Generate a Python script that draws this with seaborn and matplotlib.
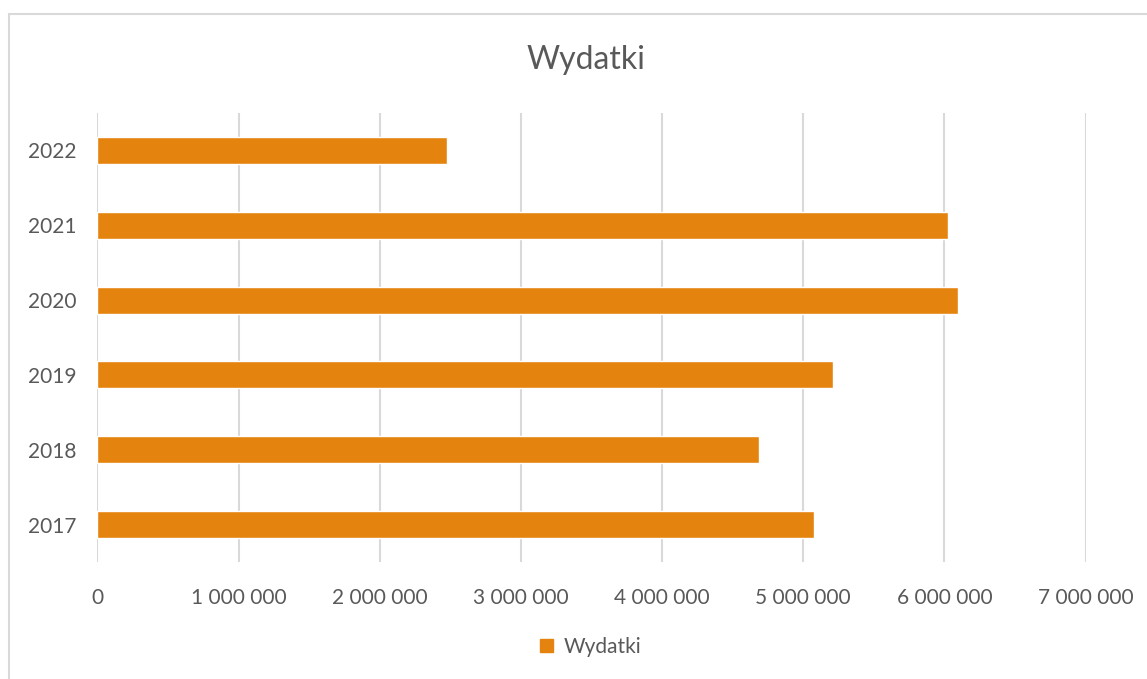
import matplotlib.pyplot as plt
import matplotlib.ticker as mticker
from matplotlib.patches import Rectangle, Patch
import seaborn as sns
import pandas as pd

# data
years = ["2017", "2018", "2019", "2020", "2021", "2022"]
wydatki = [5078000, 4688000, 5213000, 6093000, 6022000, 2473000]

bar_color = "#E5830F"
text_color = "#595959"
grid_color = "#D9D9D9"

sns.set_style("white")
plt.rcParams["font.family"] = ["Lato", "DejaVu Sans"]

df = pd.DataFrame({"Rok": years, "Wydatki": wydatki})

fig = plt.figure(figsize=(11.47, 6.79), dpi=100)
ax = fig.add_axes([0.085, 0.1723, 0.8615, 0.6613])

sns.barplot(data=df, x="Wydatki", y="Rok", order=years[::-1], orient="h",
            color=bar_color, width=0.36, saturation=1, ax=ax)

ax.set_xlim(0, 7000000)
ax.xaxis.set_major_locator(mticker.MultipleLocator(1000000))
ax.xaxis.set_major_formatter(mticker.FuncFormatter(lambda v, _: f"{v:,.0f}".replace(",", " ")))
ax.grid(axis="x", color=grid_color, linewidth=1.5)
ax.set_axisbelow(True)
for s in ax.spines.values():
    s.set_visible(False)
ax.tick_params(axis="both", length=0, labelsize=15, labelcolor=text_color)
ax.tick_params(axis="x", pad=19)
ax.tick_params(axis="y", pad=15)
ax.set_xlabel("")
ax.set_ylabel("")

fig.text(0.511, 0.912, "Wydatki", ha="center", va="center", fontsize=23, color=text_color)

fig.legend(handles=[Patch(color=bar_color, label="Wydatki")], loc="center",
           bbox_to_anchor=(0.515, 0.047), frameon=False, fontsize=15,
           labelcolor=text_color, handlelength=0.6, handleheight=0.6, handletextpad=0.5)

# chart area border
fig.patches.append(Rectangle((9 / 1147, -0.1), 1.2, 1 - 14 / 679 + 0.1,
                             transform=fig.transFigure, fill=False,
                             edgecolor="#D9D9D9", linewidth=1.5))

fig.savefig("out.png", dpi=100)
